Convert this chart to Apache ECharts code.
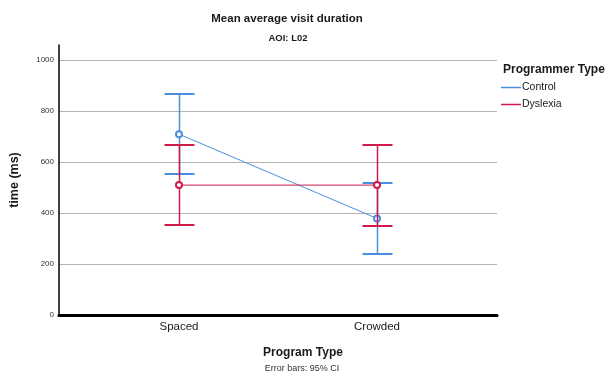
<!DOCTYPE html>
<html>
<head>
<meta charset="utf-8">
<script src="https://cdn.jsdelivr.net/npm/echarts@6/dist/echarts.min.js"></script>
<style>
  html, body { margin: 0; padding: 0; background: #fff; }
  #chart { width: 613px; height: 383px; }
</style>
</head>
<body>
<div id="chart"></div>
<script>
// Program types along the x axis
const categories = ['Spaced', 'Crowded'];
const groups = ['Control', 'Dyslexia'];

// Mean visit duration (ms) per program type
const controlMean = [710, 379];
const dyslexiaMean = [510, 510];

// 95% confidence interval bounds (ms)
const controlLow = [552, 239];
const controlHigh = [869, 519];
const dyslexiaLow = [352, 351];
const dyslexiaHigh = [667, 667];

// y axis tick labels
const yTicks = [0, 200, 400, 600, 800, 1000];

const BLUE = '#4a8fde';
const RED = '#d01a4a';
const FONT = '"Liberation Sans", Arial, sans-serif';

function lineData(means) {
  return means.map((v, i) => [i, v]);
}
function barData(lows, highs) {
  return lows.map((lo, i) => [i, lo, highs[i]]);
}

// Vertical CI stem with a cap at each end, snapped to the pixel grid
function errorBarRenderer(color) {
  return function (params, api) {
    const x = api.value(0);
    const lo = api.coord([x, api.value(1)]);
    const hi = api.coord([x, api.value(2)]);
    const cx = Math.round(lo[0]) + 0.5;
    const yLo = Math.round(lo[1]);
    const yHi = Math.round(hi[1]);
    const half = 15;
    return {
      type: 'group',
      children: [
        { type: 'line', shape: { x1: cx, y1: yLo, x2: cx, y2: yHi },
          style: { stroke: color, lineWidth: 1.5 } },
        { type: 'line', shape: { x1: cx - half, y1: yHi, x2: cx + half, y2: yHi },
          style: { stroke: color, lineWidth: 2 } },
        { type: 'line', shape: { x1: cx - half, y1: yLo, x2: cx + half, y2: yLo },
          style: { stroke: color, lineWidth: 2 } }
      ]
    };
  };
}

const chart = echarts.init(document.getElementById('chart'), null, { renderer: 'canvas' });

chart.setOption({
  animation: false,
  backgroundColor: '#ffffff',
  color: [BLUE, RED],
  textStyle: { fontFamily: FONT },
  title: [
    { text: 'Mean average visit duration', left: 282, top: 8, textAlign: 'center',
      textStyle: { fontFamily: FONT, fontSize: 11.5, fontWeight: 'bold', color: '#1a1a1a' } },
    { text: 'AOI: L02', left: 283, top: 28, textAlign: 'center',
      textStyle: { fontFamily: FONT, fontSize: 9.5, fontWeight: 'bold', color: '#1a1a1a' } },
    { text: 'Program Type', left: 298, top: 342, textAlign: 'center',
      textStyle: { fontFamily: FONT, fontSize: 12, fontWeight: 'bold', color: '#1a1a1a' } },
    { text: 'Error bars: 95% CI', left: 297, top: 359, textAlign: 'center',
      textStyle: { fontFamily: FONT, fontSize: 9, fontWeight: 'normal', color: '#333' } },
    { text: 'Programmer Type', left: 498, top: 59,
      textStyle: { fontFamily: FONT, fontSize: 12, fontWeight: 'bold', color: '#1a1a1a' } }
  ],
  legend: {
    orient: 'vertical',
    left: 501,
    top: 82,
    padding: 0,
    itemWidth: 20,
    itemHeight: 1.5,
    itemGap: 6,
    icon: 'rect',
    itemStyle: { borderWidth: 0 },
    textStyle: { fontFamily: FONT, fontSize: 10.5, color: '#1a1a1a', padding: [0, 0, 0, -4] },
    data: groups.map((g, i) => ({ name: g, itemStyle: { color: i ? RED : BLUE, borderWidth: 0 } }))
  },
  grid: { left: 59, right: 116, top: 45, bottom: 68, containLabel: false },
  xAxis: {
    type: 'value',
    min: -0.606,
    max: 1.606,
    axisLine: { show: true, lineStyle: { color: '#000', width: 3 } },
    axisTick: { show: false },
    splitLine: { show: false },
    axisLabel: {
      customValues: [0, 1],
      formatter: v => categories[Math.round(v)],
      fontFamily: FONT, fontSize: 11.5, color: '#1a1a1a', margin: 6
    }
  },
  yAxis: {
    type: 'value',
    min: 0,
    max: 1060,
    interval: 200,
    name: 'time (ms)',
    nameLocation: 'middle',
    nameGap: 38,
    nameTextStyle: { fontFamily: FONT, fontSize: 12.5, fontWeight: 'bold', color: '#1a1a1a' },
    axisLine: { show: true, onZero: false, lineStyle: { color: '#000', width: 1.5 } },
    axisTick: { show: false },
    axisLabel: {
      customValues: yTicks,
      formatter: v => String(v),
      fontFamily: FONT, fontSize: 8, color: '#333', margin: 5
    },
    splitLine: { show: true, showMaxLine: false, showMinLine: false, lineStyle: { color: '#b4b4b4', width: 1 } }
  },
  series: [
    {
      name: 'Control', type: 'line', data: lineData(controlMean),
      color: BLUE,
      symbol: 'emptyCircle', symbolSize: 6,
      lineStyle: { color: BLUE, width: 1 },
      itemStyle: { color: BLUE, borderColor: BLUE, borderWidth: 1 },
      z: 3
    },
    {
      name: 'Control-ci', type: 'custom', data: barData(controlLow, controlHigh),
      renderItem: errorBarRenderer(BLUE), z: 2
    },
    {
      name: 'Dyslexia', type: 'line', data: lineData(dyslexiaMean),
      color: RED,
      symbol: 'emptyCircle', symbolSize: 6,
      lineStyle: { color: RED, width: 1 },
      itemStyle: { color: RED, borderColor: RED, borderWidth: 1 },
      z: 5
    },
    {
      name: 'Dyslexia-ci', type: 'custom', data: barData(dyslexiaLow, dyslexiaHigh),
      renderItem: errorBarRenderer(RED), z: 4
    }
  ]
});
</script>
</body>
</html>
